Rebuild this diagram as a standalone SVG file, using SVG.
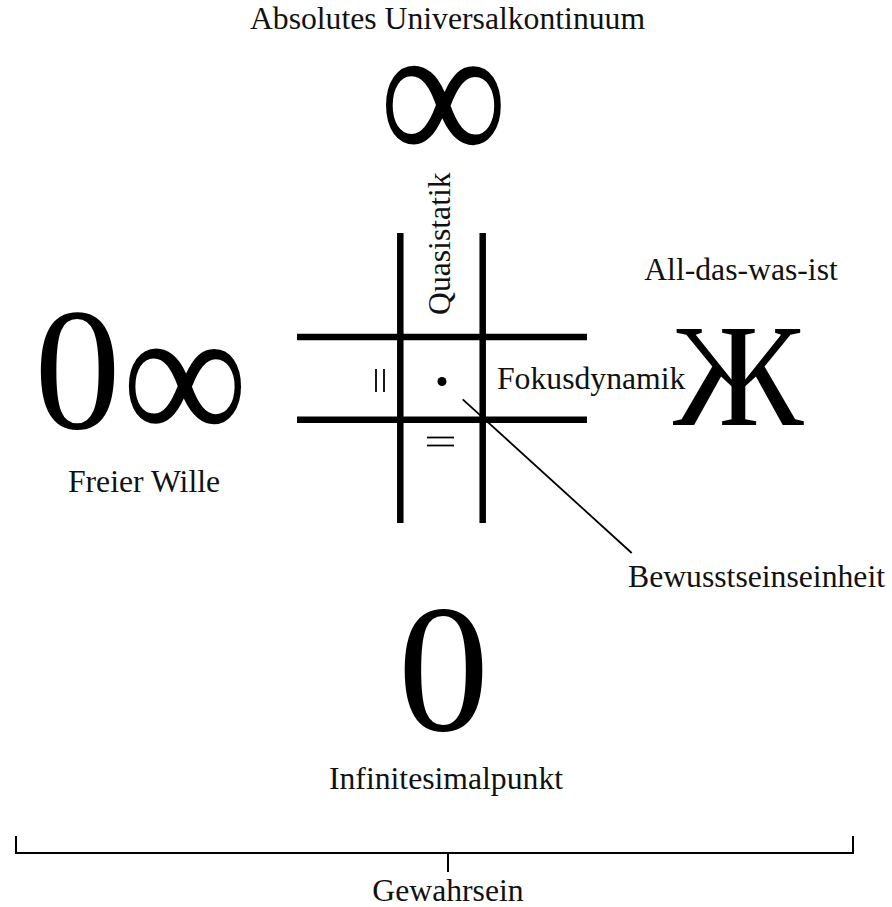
<svg xmlns="http://www.w3.org/2000/svg" width="892" height="907" viewBox="0 0 892 907">
<style>
  .t { font-family: "Liberation Serif", "Times New Roman", serif; font-size: 31.7px; fill: #111; }
  .m { text-anchor: middle; }
  .big { font-family: "Liberation Serif", "Times New Roman", serif; fill: #000; text-anchor: middle; }
  .grid { stroke: #000; stroke-width: 6.5; fill: none; }
  .thin { stroke: #000; stroke-width: 1.8; fill: none; }
  .br { stroke: #000; stroke-width: 2; fill: none; }
</style>
<rect width="892" height="907" fill="#fff"/>
<g id="universalkontinuum">
  <text class="t m" x="447.5" y="29">Absolutes Universalkontinuum</text>
  <text class="big" transform="translate(443.5,166) scale(1.06,1.23)" x="0" y="0" font-size="170">∞</text>
</g>
<g id="freier-wille">
  <text class="big" x="77.5" y="428" font-size="173">0</text>
  <text class="big" transform="translate(185,443.5) scale(1.06,1.2)" x="0" y="0" font-size="166">∞</text>
  <text class="t m" x="144" y="492">Freier Wille</text>
</g>
<g id="all-das-was-ist">
  <text class="t m" x="741" y="280">All-das-was-ist</text>
  <text class="big" x="738.5" y="425" font-size="146">Ж</text>
</g>
<g id="infinitesimalpunkt">
  <text class="big" x="443.5" y="730" font-size="183">0</text>
  <text class="t m" x="446" y="789">Infinitesimalpunkt</text>
</g>
<g id="grid">
  <line class="grid" x1="400.3" y1="233" x2="400.3" y2="523"/>
  <line class="grid" x1="482.7" y1="233" x2="482.7" y2="523"/>
  <line class="grid" x1="297" y1="337" x2="587" y2="337"/>
  <line class="grid" x1="297" y1="419.7" x2="587" y2="419.7"/>
  <line class="thin" x1="376" y1="369" x2="376" y2="392"/>
  <line class="thin" x1="384" y1="369" x2="384" y2="392"/>
  <line class="thin" x1="427" y1="437.5" x2="454" y2="437.5"/>
  <line class="thin" x1="427" y1="445.5" x2="454" y2="445.5"/>
  <text class="t" transform="translate(450,315) rotate(-90)">Quasistatik</text>
  <text class="t" x="497" y="389">Fokusdynamik</text>
</g>
<g id="bewusstseinseinheit">
  <circle cx="442" cy="381.5" r="4.5" fill="#000"/>
  <text class="t m" x="756.5" y="587">Bewusstseinseinheit</text>
</g>
<g id="gewahrsein">
  <text class="t m" x="448" y="901">Gewahrsein</text>
</g>
<g id="connectors">
  <line class="thin" x1="462.7" y1="399.3" x2="631.7" y2="553"/>
  <path class="br" d="M16,836 V853 H853 V836 M448,853 V872"/>
</g>
</svg>
